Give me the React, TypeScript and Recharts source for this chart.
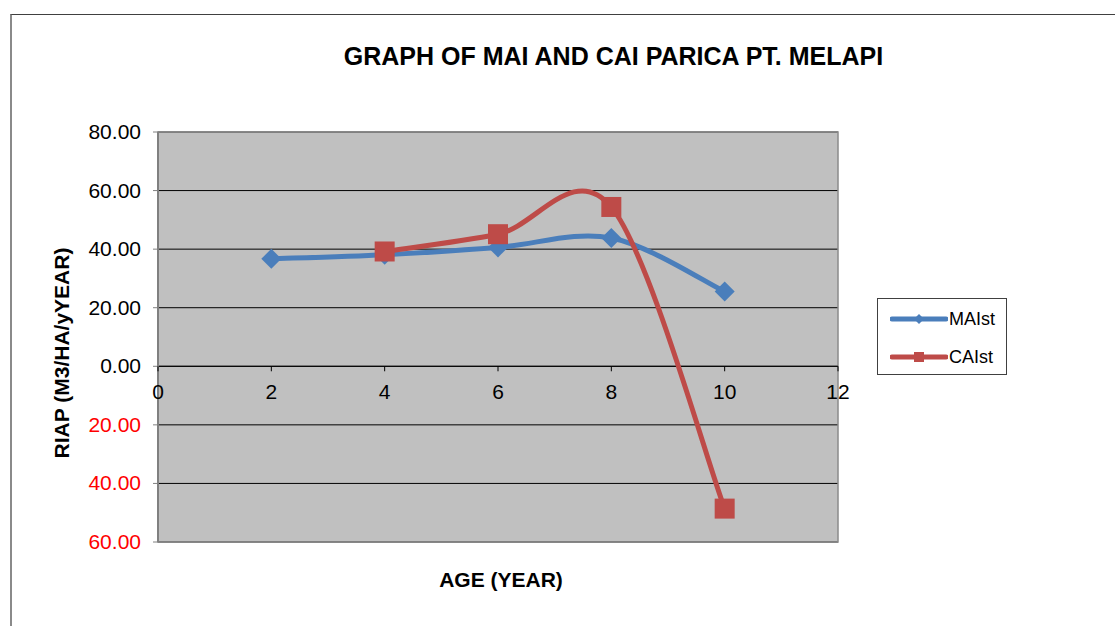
import {
  ComposedChart,
  Line,
  XAxis,
  YAxis,
  CartesianGrid,
  ReferenceArea,
} from 'recharts';

const ages = [0, 2, 4, 6, 8, 10, 12];
const maiValues = [null, 36.7, 38.1, 40.6, 43.8, 25.5, null];
const caiValues = [null, null, 39.2, 45.1, 54.4, -48.6, null];
const yTicks = [-60, -40, -20, 0, 20, 40, 60, 80];

const BLUE = '#4A7EBB';
const RED = '#BE4B48';
const FONT = '"Liberation Sans", Arial, sans-serif';

const data = ages.map((age, i) => ({
  age,
  MAIst: maiValues[i],
  CAIst: caiValues[i],
  zero: 0,
}));

// Excel-style smoothed line (Catmull-Rom as cubic Bezier)
const excelSmooth = (context: any) => {
  let pts: number[][] = [];
  return {
    areaStart() {},
    areaEnd() {},
    lineStart() {
      pts = [];
    },
    lineEnd() {
      const n = pts.length;
      if (!n) return;
      context.moveTo(pts[0][0], pts[0][1]);
      for (let i = 0; i < n - 1; i++) {
        const p0 = pts[Math.max(i - 1, 0)];
        const p1 = pts[i];
        const p2 = pts[i + 1];
        const p3 = pts[Math.min(i + 2, n - 1)];
        context.bezierCurveTo(
          p1[0] + (p2[0] - p0[0]) / 6,
          p1[1] + (p2[1] - p0[1]) / 6,
          p2[0] - (p3[0] - p1[0]) / 6,
          p2[1] - (p3[1] - p1[1]) / 6,
          p2[0],
          p2[1]
        );
      }
    },
    point(x: number, y: number) {
      pts.push([+x, +y]);
    },
  };
};

const Diamond = (props: any) => {
  const { cx, cy, value } = props;
  if (value == null || cx == null || cy == null) return <g key={props.key} />;
  return (
    <polygon
      key={props.key}
      points={`${cx},${cy - 10} ${cx + 10},${cy} ${cx},${cy + 10} ${cx - 10},${cy}`}
      fill={BLUE}
    />
  );
};

const Square = (props: any) => {
  const { cx, cy, value } = props;
  if (value == null || cx == null || cy == null) return <g key={props.key} />;
  return <rect key={props.key} x={cx - 10} y={cy - 10} width={20} height={20} fill={RED} />;
};

// x-axis ticks drawn on the zero line
const ZeroTick = (props: any) => {
  const { cx, cy, payload } = props;
  return (
    <g key={props.key}>
      <line x1={cx} y1={cy} x2={cx} y2={cy + 5} stroke="#000" strokeWidth={1} />
      <text x={cx} y={cy + 33} textAnchor="middle" fontSize={21} fontFamily={FONT} fill="#000">
        {payload.age}
      </text>
    </g>
  );
};

const YTick = (props: any) => {
  const { x, y, payload } = props;
  const v = payload.value;
  return (
    <text
      x={x}
      y={y}
      dy={7}
      textAnchor="end"
      fontSize={21}
      fontFamily={FONT}
      fill={v < 0 ? '#FF0000' : '#000'}
    >
      {Math.abs(v).toFixed(2)}
    </text>
  );
};

export default function App() {
  return (
    <div
      style={{
        position: 'absolute',
        left: 0,
        top: 0,
        width: 1115,
        height: 626,
        background: '#fff',
        overflow: 'hidden',
        fontFamily: FONT,
      }}
    >
      <div
        style={{
          position: 'absolute',
          left: 10,
          top: 14,
          width: 1200,
          height: 700,
          borderTop: '1px solid #404040',
          borderLeft: '2px solid #8a8a8a',
        }}
      />
      <div
        style={{
          position: 'absolute',
          left: 0,
          width: 1115,
          top: 40,
          textAlign: 'center',
          paddingLeft: 112,
          boxSizing: 'border-box',
          fontSize: 25,
          fontWeight: 'bold',
          lineHeight: '32px',
        }}
      >
        GRAPH OF MAI AND CAI PARICA PT. MELAPI
      </div>
      <div
        style={{
          position: 'absolute',
          left: 62 - 150,
          top: 353 - 14,
          width: 300,
          height: 28,
          lineHeight: '28px',
          textAlign: 'center',
          fontSize: 21,
          fontWeight: 'bold',
          transform: 'rotate(-90deg)',
        }}
      >
        RIAP (M3/HA/yYEAR)
      </div>
      <div
        style={{
          position: 'absolute',
          left: 501 - 150,
          top: 580 - 14,
          width: 300,
          height: 28,
          lineHeight: '28px',
          textAlign: 'center',
          fontSize: 21,
          fontWeight: 'bold',
        }}
      >
        AGE (YEAR)
      </div>
      <div style={{ position: 'absolute', left: 0, top: 0 }}>
        <ComposedChart
          width={1115}
          height={626}
          data={data}
          margin={{ top: 132, right: 277, bottom: 84, left: 78 }}
        >
          <CartesianGrid
            horizontal
            vertical={false}
            stroke="#000"
            strokeWidth={1}
            fill="#C0C0C0"
            fillOpacity={1}
          />
          <XAxis type="number" dataKey="age" domain={[0, 12]} ticks={ages} hide />
          <YAxis
            width={80}
            domain={[-60, 80]}
            ticks={yTicks}
            interval={0}
            tick={<YTick />}
            tickSize={5}
            tickMargin={12}
            axisLine={{ stroke: '#808080', strokeWidth: 2 }}
            tickLine={{ stroke: '#808080' }}
          />
          <ReferenceArea
            x1={0}
            x2={12}
            y1={-60}
            y2={80}
            fill="none"
            stroke="#8a8a8a"
            strokeWidth={1.5}
          />
          <Line
            dataKey="zero"
            type="linear"
            stroke="#000"
            strokeWidth={1}
            dot={ZeroTick}
            activeDot={false}
            legendType="none"
            isAnimationActive={false}
          />
          <Line
            dataKey="MAIst"
            type={excelSmooth as any}
            stroke={BLUE}
            strokeWidth={5}
            dot={Diamond}
            activeDot={false}
            isAnimationActive={false}
          />
          <Line
            dataKey="CAIst"
            type={excelSmooth as any}
            stroke={RED}
            strokeWidth={5}
            dot={Square}
            activeDot={false}
            isAnimationActive={false}
          />
        </ComposedChart>
      </div>
      <div
        style={{
          position: 'absolute',
          left: 877,
          top: 298,
          width: 128,
          height: 75,
          border: '1px solid #404040',
          background: '#fff',
        }}
      >
        {[
          { name: 'MAIst', color: BLUE, shape: 'diamond' },
          { name: 'CAIst', color: RED, shape: 'square' },
        ].map((item, i) => (
          <div
            key={item.name}
            style={{
              position: 'absolute',
              left: 12,
              top: 8 + i * 38,
              height: 24,
              display: 'flex',
              alignItems: 'center',
            }}
          >
            <svg width={58} height={24}>
              <line x1={2} y1={12} x2={56} y2={12} stroke={item.color} strokeWidth={5} strokeLinecap="round" />
              {item.shape === 'diamond' ? (
                <polygon points="29,7 34,12 29,17 24,12" fill={item.color} />
              ) : (
                <rect x={24} y={7} width={10} height={10} fill={item.color} />
              )}
            </svg>
            <span style={{ fontSize: 18, marginLeft: 1 }}>{item.name}</span>
          </div>
        ))}
      </div>
    </div>
  );
}
